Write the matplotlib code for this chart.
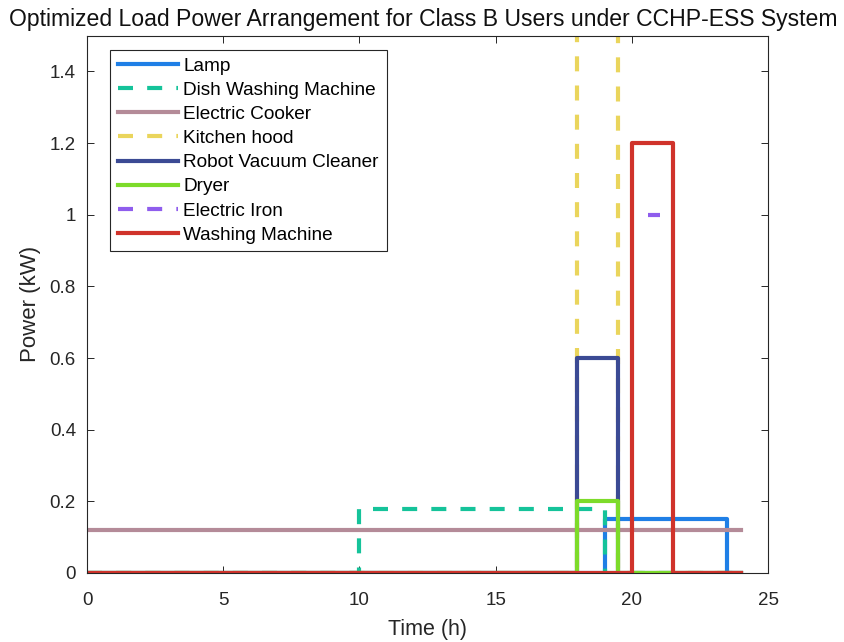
import matplotlib
matplotlib.use('Agg')
import matplotlib.pyplot as plt

plt.rcParams['font.family'] = ['Liberation Sans', 'DejaVu Sans']

# Časové body (h) a výkony (kW) jednotlivých spotřebičů - schodové průběhy
lamp_t = [0, 19, 23.5, 24]
lamp_p = [0, 0.15, 0, 0]

dish_t = [0, 10, 19, 24]
dish_p = [0, 0.18, 0, 0]

cooker_t = [0, 24]
cooker_p = [0.12, 0.12]

hood_t = [0, 18, 19.5, 24]
hood_p = [0, 2.0, 0, 0]

robot_t = [0, 18, 19.5, 24]
robot_p = [0, 0.6, 0, 0]

dryer_t = [0, 18, 19.5, 24]
dryer_p = [0, 0.2, 0, 0]

iron_t = [20.6, 21.05]
iron_p = [1.0, 1.0]

washing_t = [0, 20, 21.5, 24]
washing_p = [0, 1.2, 0, 0]

names = ['Lamp', 'Dish Washing Machine', 'Electric Cooker', 'Kitchen hood',
         'Robot Vacuum Cleaner', 'Dryer', 'Electric Iron', 'Washing Machine']

fig = plt.figure(figsize=(8.45, 6.42), dpi=100)
ax = fig.add_axes([0.103, 0.1075, 0.806, 0.837])

lw = 3.0
dash = (3.6, 3.4)

ax.plot(lamp_t, lamp_p, drawstyle='steps-post', color='#1f7fe6', lw=lw, label=names[0])
ax.plot(dish_t, dish_p, drawstyle='steps-post', color='#15c39a', lw=lw, dashes=dash, label=names[1])
ax.plot(cooker_t, cooker_p, drawstyle='steps-post', color='#b48b98', lw=lw, label=names[2])
ax.plot(hood_t, hood_p, drawstyle='steps-post', color='#ead55c', lw=lw, dashes=dash, label=names[3])
ax.plot(robot_t, robot_p, drawstyle='steps-post', color='#3b4a94', lw=lw, label=names[4])
ax.plot(dryer_t, dryer_p, drawstyle='steps-post', color='#7ddb2a', lw=lw, label=names[5])
ax.plot(iron_t, iron_p, drawstyle='steps-post', color='#8f5ded', lw=lw, dashes=dash, label=names[6])
ax.plot(washing_t, washing_p, drawstyle='steps-post', color='#d0332b', lw=lw, label=names[7])

ax.set_xlim(0, 25)
ax.set_ylim(0, 1.5)
ax.set_xticks([0, 5, 10, 15, 20, 25])
ax.set_yticks([0, 0.2, 0.4, 0.6, 0.8, 1.0, 1.2, 1.4])
ax.set_yticklabels(['0', '0.2', '0.4', '0.6', '0.8', '1', '1.2', '1.4'])
ax.tick_params(direction='in', top=True, right=True, labelsize=13.5, colors='#262626',
               length=5, width=0.7)
ax.tick_params(axis='x', pad=14)
ax.tick_params(axis='y', pad=8)
for s in ax.spines.values():
    s.set_color('#262626')
    s.set_linewidth(0.8)

ax.set_xlabel('Time (h)', fontsize=15.5, color='#262626', labelpad=7)
ax.set_ylabel('Power (kW)', fontsize=16, color='#262626', labelpad=6)
ax.set_title('Optimized Load Power Arrangement for Class B Users under CCHP-ESS System',
             fontsize=16.6, color='#111111', pad=7, x=0.494)

leg = ax.legend(loc='upper left', fontsize=13.7, handlelength=3.15, handletextpad=0.3,
                labelspacing=0.36, borderpad=0.4, fancybox=False, framealpha=1,
                edgecolor='#262626', bbox_to_anchor=(0.034, 0.974), borderaxespad=0)
leg.get_frame().set_linewidth(0.8)

fig.savefig('out.png', dpi=100)
